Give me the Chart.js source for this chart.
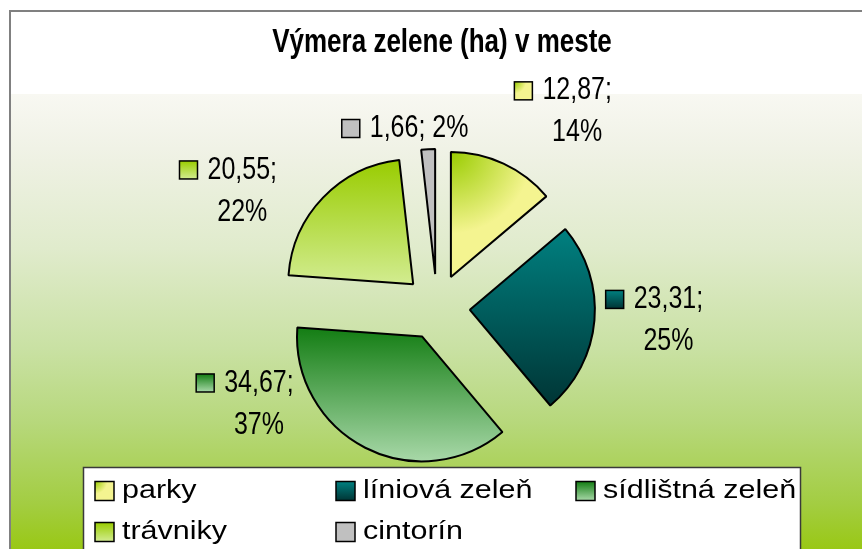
<!DOCTYPE html>
<html>
<head>
<meta charset="utf-8">
<title>Výmera zelene (ha) v meste</title>
<script src="https://cdn.jsdelivr.net/npm/chart.js@4/dist/chart.umd.min.js"></script>
<style>
  html, body { margin: 0; padding: 0; background: #fff; }
  #wrap { width: 862px; height: 549px; }
</style>
</head>
<body>
<div id="wrap"><canvas id="zelen" width="862" height="549"></canvas></div>
<script>
const chartTitle = 'Výmera zelene (ha) v meste';
const categories = ['parky', 'líniová zeleň', 'sídlištná zeleň', 'trávniky', 'cintorín'];
const areaHa = [12.87, 23.31, 34.67, 20.55, 1.66];

// slice fills: [from, to, kind]
const fills = [
  ['#99cc00', '#f4f490', 'corner'],
  ['#008080', '#003535', 'down'],
  ['#137d13', '#a8d8a8', 'down'],
  ['#99cc00', '#d2ec90', 'down'],
  ['#c0c0c0', '#c0c0c0', 'down']
];
const explode = 33;
// where each label block sits, measured from the slice's outer edge (deg clockwise from top, px)
const labelAlign = [49, 90, 290, 274, 312];
const labelDist = [79, 60, 128, 95, 31];

const FONT = '"Liberation Sans", Arial, sans-serif';
const total = areaHa.reduce((a, b) => a + b, 0);
const fmt = v => v.toFixed(2).replace('.', ',');
const pct = v => Math.round(v / total * 100) + '%';

function makeFill(ctx, f, x0, y0, x1, y1) {
  let g;
  if (f[2] === 'corner') {
    g = ctx.createRadialGradient(x0, y0, 0, x0, y0, Math.max(x1 - x0, y1 - y0) * 0.65);
  } else {
    g = ctx.createLinearGradient(0, y0, 0, y1);
  }
  g.addColorStop(0, f[0]);
  g.addColorStop(1, f[1]);
  return g;
}

function arcBounds(arc) {
  const xs = [arc.x], ys = [arc.y];
  for (let k = 0; k <= 24; k++) {
    const a = arc.startAngle + (arc.endAngle - arc.startAngle) * k / 24;
    xs.push(arc.x + Math.cos(a) * arc.outerRadius);
    ys.push(arc.y + Math.sin(a) * arc.outerRadius);
  }
  return [Math.min(...xs), Math.min(...ys), Math.max(...xs), Math.max(...ys)];
}

function drawKey(ctx, i, x, y, s) {
  ctx.fillStyle = makeFill(ctx, fills[i], x, y, x + s, y + s);
  ctx.fillRect(x, y, s, s);
  ctx.strokeStyle = '#000';
  ctx.lineWidth = 1.5;
  ctx.strokeRect(x, y, s, s);
}

function stretchText(ctx, text, x, y, align, sx, sy) {
  ctx.save();
  ctx.translate(x, y);
  ctx.scale(sx, sy);
  ctx.textAlign = align;
  ctx.textBaseline = 'middle';
  ctx.fillStyle = '#000';
  ctx.fillText(text, 0, 0);
  ctx.restore();
}

const backdrop = {
  id: 'backdrop',
  beforeDraw(chart) {
    const { ctx, width, height } = chart;
    ctx.save();
    ctx.fillStyle = '#fff';
    ctx.fillRect(0, 0, width, height);
    const g = ctx.createLinearGradient(0, 94, 0, height);
    g.addColorStop(0, '#f8f8f2');
    g.addColorStop(0.12, '#f0f2e6');
    g.addColorStop(0.34, '#e0ebcc');
    g.addColorStop(0.56, '#c9e1a3');
    g.addColorStop(0.72, '#b7d87c');
    g.addColorStop(0.9, '#a3cd42');
    g.addColorStop(1, '#99c815');
    ctx.fillStyle = g;
    ctx.fillRect(11, 94, width - 11, height - 94);
    ctx.strokeStyle = '#808080';
    ctx.lineWidth = 2;
    ctx.beginPath();
    ctx.moveTo(10, height + 5);
    ctx.lineTo(10, 11);
    ctx.lineTo(width + 5, 11);
    ctx.stroke();
    ctx.restore();
  }
};

const explodeSlices = {
  id: 'explodeSlices',
  afterDatasetUpdate(chart, args) {
    args.meta.data.forEach(arc => {
      const mid = (arc.startAngle + arc.endAngle) / 2;
      arc.x += Math.cos(mid) * explode;
      arc.y += Math.sin(mid) * explode;
    });
  },
  beforeDatasetsDraw(chart) {
    const ctx = chart.ctx;
    chart.getDatasetMeta(0).data.forEach((arc, i) => {
      const b = arcBounds(arc);
      arc.options.backgroundColor = makeFill(ctx, fills[i], b[0], b[1], b[2], b[3]);
    });
  }
};

const sliceLabels = {
  id: 'sliceLabels',
  afterDatasetsDraw(chart) {
    const ctx = chart.ctx;
    const sq = 18, gap = 10;
    ctx.save();
    ctx.font = '25px ' + FONT;
    chart.getDatasetMeta(0).data.forEach((arc, i) => {
      const mid = (arc.startAngle + arc.endAngle) / 2;
      const ax = arc.x + Math.cos(mid) * arc.outerRadius;
      const ay = arc.y + Math.sin(mid) * arc.outerRadius;
      const a = labelAlign[i] * Math.PI / 180;
      const cx = ax + Math.sin(a) * labelDist[i];
      const cy = ay - Math.cos(a) * labelDist[i];
      const one = fmt(areaHa[i]) + '; ' + pct(areaHa[i]);
      const w = ctx.measureText(one).width;
      if (w < 112) {
        const left = cx - (sq + gap + w) / 2;
        drawKey(ctx, i, left, cy - sq / 2, sq);
        stretchText(ctx, one, left + sq + gap, cy, 'left', 1, 1.25);
      } else {
        const t1 = fmt(areaHa[i]) + ';';
        const w1 = ctx.measureText(t1).width;
        const left = cx - (sq + gap + w1) / 2;
        const y1 = cy - 21, y2 = cy + 21;
        drawKey(ctx, i, left, y1 - sq / 2, sq);
        stretchText(ctx, t1, left + sq + gap, y1, 'left', 1, 1.25);
        stretchText(ctx, pct(areaHa[i]), left + sq + gap + w1 / 2, y2, 'center', 1, 1.25);
      }
    });
    ctx.restore();
  }
};

const legendBox = {
  id: 'legendBox',
  afterDraw(chart) {
    const ctx = chart.ctx;
    ctx.save();
    ctx.fillStyle = '#fff';
    ctx.fillRect(83, 467, 717, 100);
    ctx.strokeStyle = '#3a3a3a';
    ctx.lineWidth = 1.5;
    ctx.strokeRect(83.5, 467.5, 717, 100);
    const cols = [95, 336, 576], rows = [491, 532];
    ctx.font = '24px ' + FONT;
    categories.forEach((name, i) => {
      const x = cols[i % 3], y = rows[Math.floor(i / 3)];
      drawKey(ctx, i, x, y - 9.5, 19);
      stretchText(ctx, name, x + 27, y, 'left', 1.27, 1.08);
    });
    ctx.restore();
  }
};

const titleText = {
  id: 'titleText',
  afterDraw(chart) {
    const ctx = chart.ctx;
    ctx.save();
    ctx.font = 'bold 26px ' + FONT;
    stretchText(ctx, chartTitle, 442, 43, 'center', 1, 1.3);
    ctx.restore();
  }
};

new Chart(document.getElementById('zelen'), {
  type: 'pie',
  data: {
    labels: categories,
    datasets: [{
      data: areaHa,
      radius: 125,
      backgroundColor: c => fills[c.dataIndex][1],
      borderColor: '#000',
      borderWidth: 2
    }]
  },
  options: {
    responsive: false,
    animation: false,
    events: [],
    layout: { padding: { left: 112, right: 100, top: 150, bottom: 85 } },
    plugins: {
      legend: { display: false },
      title: { display: false },
      tooltip: { enabled: false }
    }
  },
  plugins: [backdrop, explodeSlices, sliceLabels, legendBox, titleText]
});
</script>
</body>
</html>
